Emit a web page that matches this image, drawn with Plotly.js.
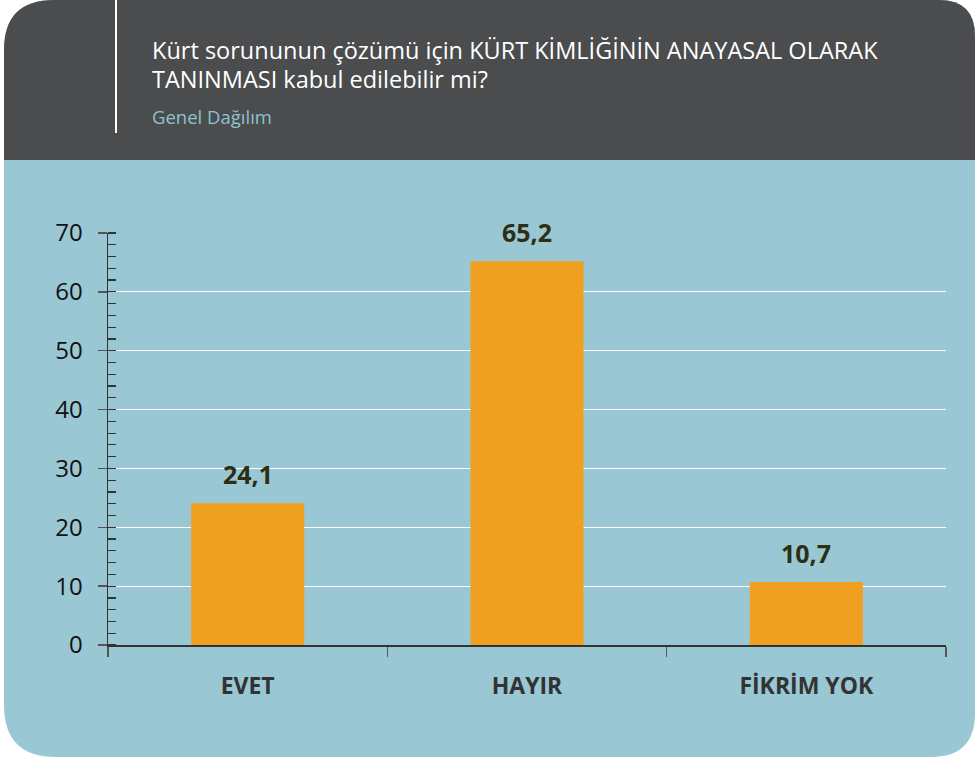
<!DOCTYPE html>
<html>
<head>
<meta charset="utf-8">
<script src="https://cdn.plot.ly/plotly-3.0.1.min.js"></script>
<style>html,body{margin:0;padding:0;background:#fff;}#chart{width:975px;height:759px;}</style>
</head>
<body>
<div id="chart"></div>
<script>
// ---- data ----
var categories = ["EVET", "HAYIR", "FİKRİM YOK"];
var values = [24.1, 65.2, 10.7];
var valueLabels = ["24,1", "65,2", "10,7"];
var yTickVals = [0, 10, 20, 30, 40, 50, 60, 70];
var titleLine1 = "Kürt sorununun çözümü için KÜRT KİMLİĞİNİN ANAYASAL OLARAK";
var titleLine2 = "TANINMASI kabul edilebilir mi?";
var subtitle = "Genel Dağılım";

// ---- geometry (pixels) ----
var W = 975, H = 759;
var L = 108, R = 946, T = 233, B = 645;
function px(x){ return (x - L) / (R - L); }
function py(y){ return (B - y) / (B - T); }
function roundRect(x0, y0, x1, y1, rtl, rtr, rbr, rbl){
  var p = "M " + px(x0 + rtl) + "," + py(y0);
  p += " L " + px(x1 - rtr) + "," + py(y0);
  p += " Q " + px(x1) + "," + py(y0) + " " + px(x1) + "," + py(y0 + rtr);
  p += " L " + px(x1) + "," + py(y1 - rbr);
  p += " Q " + px(x1) + "," + py(y1) + " " + px(x1 - rbr) + "," + py(y1);
  p += " L " + px(x0 + rbl) + "," + py(y1);
  p += " Q " + px(x0) + "," + py(y1) + " " + px(x0) + "," + py(y1 - rbl);
  p += " L " + px(x0) + "," + py(y0 + rtl);
  p += " Q " + px(x0) + "," + py(y0) + " " + px(x0 + rtl) + "," + py(y0) + " Z";
  return p;
}

var shapes = [
  {type: "path", xref: "paper", yref: "paper", layer: "below",
   path: roundRect(4, 0, 975, 757, 50, 36, 44, 52), fillcolor: "#99c7d3", line: {width: 0}},
  {type: "path", xref: "paper", yref: "paper", layer: "below",
   path: roundRect(4, 0, 975, 160, 50, 36, 0, 0), fillcolor: "#4b4c4e", line: {width: 0}},
  {type: "line", xref: "paper", yref: "paper", layer: "below",
   x0: px(116), x1: px(116), y0: py(0), y1: py(133), line: {color: "#ffffff", width: 2}}
];

var annotations = [
  {xref: "paper", yref: "paper", x: px(150), y: py(50), xanchor: "left", yanchor: "middle",
   text: titleLine1, showarrow: false, font: {family: "Open Sans", size: 23.5, color: "#ffffff"}},
  {xref: "paper", yref: "paper", x: px(150), y: py(79), xanchor: "left", yanchor: "middle",
   text: titleLine2, showarrow: false, font: {family: "Open Sans", size: 23.5, color: "#ffffff"}},
  {xref: "paper", yref: "paper", x: px(150), y: py(116), xanchor: "left", yanchor: "middle",
   text: subtitle, showarrow: false, font: {family: "Open Sans", size: 18.5, color: "#8cc3cf"}}
];
for (var i = 0; i < categories.length; i++) {
  annotations.push({x: categories[i], y: values[i], xref: "x", yref: "y", yanchor: "bottom",
    yshift: 10, text: valueLabels[i], showarrow: false,
    font: {family: "Open Sans", size: 25, color: "#2e2e14", weight: "bold"}});
}

var data = [{
  type: "bar", x: categories, y: values, width: 0.405,
  marker: {color: "#f0a020"}, hoverinfo: "none"
}];

var layout = {
  width: W, height: H,
  margin: {l: L, r: W - R, t: T, b: H - B, pad: 0},
  paper_bgcolor: "#ffffff", plot_bgcolor: "rgba(0,0,0,0)",
  showlegend: false,
  shapes: shapes, annotations: annotations,
  xaxis: {
    type: "category", range: [-0.5, 2.5], fixedrange: true,
    showline: true, linecolor: "#333333", linewidth: 1.5,
    ticks: "outside", tickson: "boundaries", ticklen: 10, tickcolor: "#555555", tickwidth: 1.5,
    ticklabelstandoff: 20,
    tickfont: {family: "Open Sans", size: 23, color: "#333333", weight: "bold"},
    showgrid: false, zeroline: false
  },
  yaxis: {
    range: [0, 70], fixedrange: true, tickvals: yTickVals,
    showline: true, linecolor: "#333333", linewidth: 1.5,
    ticks: "outside", ticklen: 9, tickcolor: "#555555", tickwidth: 1.5,
    ticklabelstandoff: 10,
    tickfont: {family: "Open Sans", size: 24, color: "#111111"},
    minor: {dtick: 2, ticks: "inside", ticklen: 8, tickcolor: "#333333", tickwidth: 1.2, showgrid: false},
    showgrid: true, gridcolor: "#ffffff", gridwidth: 1.2,
    zeroline: false
  }
};

Plotly.newPlot("chart", data, layout, {displayModeBar: false, staticPlot: true});
</script>
</body>
</html>
